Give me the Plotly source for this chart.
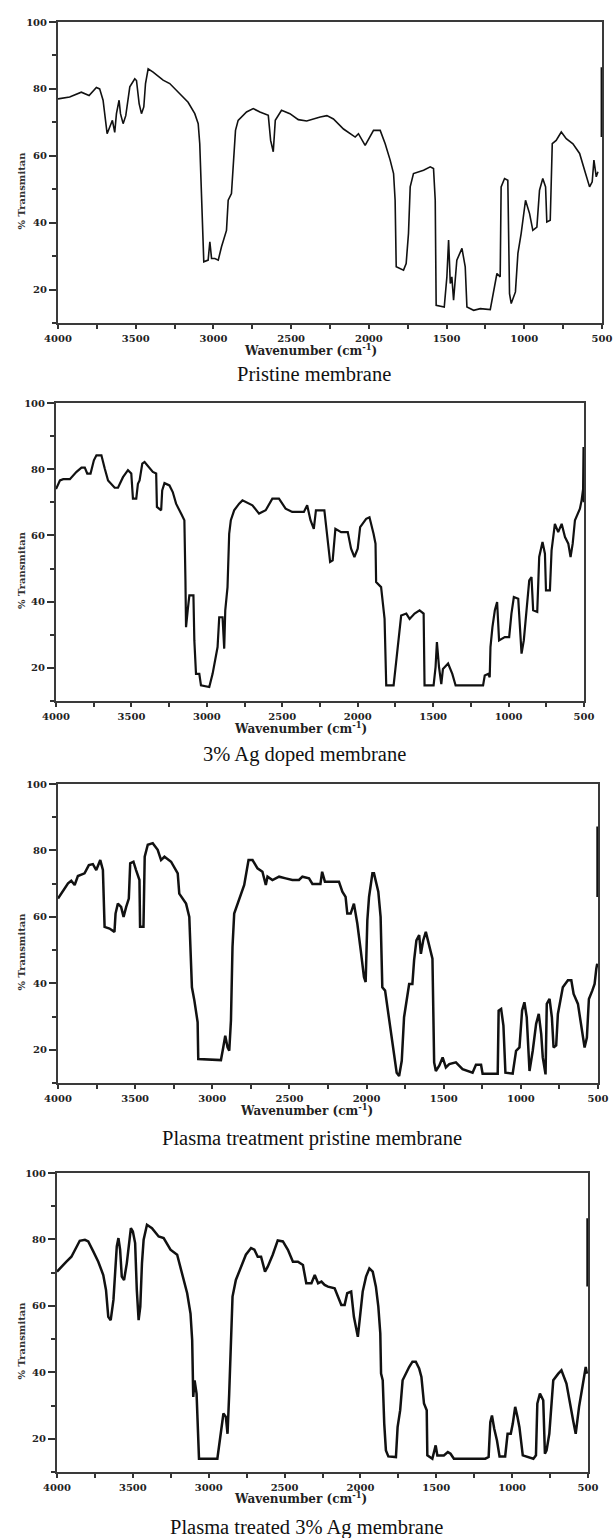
import plotly.graph_objects as go

# ---------------- data (wavenumber cm^-1, % transmittance) ----------------
PRISTINE = [
    (4000, 77), (3925, 77.6), (3850, 79), (3800, 78), (3753, 80.4), (3732, 80), (3710, 76.6),
    (3693, 70.6), (3684, 66.6), (3667, 68.6), (3650, 70.6), (3635, 67), (3624, 72.6), (3607, 76.6),
    (3598, 72.6), (3581, 69.6), (3564, 72), (3538, 80.6), (3506, 83), (3495, 82.5), (3478, 75.6),
    (3463, 72.6), (3448, 74.6), (3437, 81.6), (3420, 86), (3388, 85), (3324, 82.6), (3281, 81.6),
    (3216, 78.6), (3163, 76), (3120, 72.6), (3098, 69.6), (3088, 63.6), (3081, 52.7), (3073, 40.7),
    (3062, 28.3), (3034, 28.8), (3023, 34.3), (3012, 29.3), (2991, 29.3), (2969, 28.8), (2948, 32.8),
    (2916, 37.7), (2905, 46.7), (2884, 48.7), (2873, 56.7), (2858, 67.6), (2841, 70.6), (2787, 73.1),
    (2744, 74.1), (2701, 73.1), (2647, 72.1), (2632, 64.6), (2615, 61.2), (2602, 70.6), (2562, 73.6),
    (2508, 72.6), (2454, 70.8), (2400, 70.4), (2313, 71.6), (2270, 72), (2228, 71), (2163, 68),
    (2088, 65.6), (2067, 66.6), (2024, 63.1), (1970, 67.6), (1927, 67.6), (1895, 63.6), (1863, 58.7),
    (1841, 54.7), (1831, 46.7), (1824, 26.8), (1777, 25.8), (1760, 27.8), (1745, 36.8), (1734, 50.7),
    (1713, 54.7), (1648, 55.7), (1605, 56.7), (1584, 56.2), (1573, 46.7), (1567, 15.3), (1515, 14.8),
    (1498, 23.8), (1487, 34.8), (1476, 21.8), (1466, 23.8), (1455, 16.8), (1434, 28.8), (1401, 32.3),
    (1380, 26.8), (1369, 14.8), (1326, 13.8), (1283, 14.3), (1219, 14), (1197, 19.8), (1176, 24.8),
    (1155, 23.8), (1149, 50.7), (1127, 53.2), (1106, 52.7), (1095, 18.8), (1084, 15.8), (1057, 19.3),
    (1041, 30.8), (1020, 36.8), (992, 46.7), (966, 42.7), (945, 37.7), (919, 38.7), (902, 49.7),
    (881, 53.2), (863, 50.7), (855, 40.2), (833, 40.7), (820, 63.6), (795, 64.6), (762, 67.1),
    (730, 65.1), (687, 63.6), (644, 60.7), (612, 55.7), (580, 50.7), (563, 52.2), (552, 58.7),
    (537, 53.7), (526, 55.2), (None, None), (504, 65.6), (504, 86.5),
]

AG_DOPED = [
    (4000, 74), (3974, 76.6), (3952, 77), (3908, 77), (3864, 79.2), (3831, 80.5), (3809, 80.5),
    (3793, 78.7), (3771, 78.7), (3749, 82.7), (3732, 84.2), (3699, 84.2), (3677, 80.2), (3655, 76.6),
    (3611, 74.4), (3589, 74.4), (3556, 77.6), (3523, 79.7), (3501, 78.7), (3490, 71.1), (3468, 71.1),
    (3457, 75.6), (3446, 76.6), (3428, 81.7), (3413, 82.2), (3380, 80.5), (3358, 79.2), (3336, 78.7),
    (3331, 68.6), (3303, 67.6), (3296, 73.6), (3281, 75.8), (3248, 75.1), (3226, 73.1), (3204, 69.6),
    (3171, 66.6), (3149, 64.6), (3142, 46.4), (3138, 32.3), (3127, 37.4), (3116, 41.9), (3089, 41.9),
    (3083, 28.3), (3072, 18.2), (3050, 18.2), (3039, 14.7), (2984, 14.2), (2962, 18.2), (2929, 26.3),
    (2918, 35.3), (2896, 35.3), (2885, 25.8), (2878, 37.4), (2863, 44.4), (2852, 60.5), (2841, 64.6),
    (2819, 67.6), (2786, 69.6), (2764, 70.6), (2698, 69.1), (2654, 66.6), (2610, 67.6), (2566, 71.1),
    (2522, 71.1), (2478, 68.1), (2434, 67.1), (2357, 67.1), (2335, 69.1), (2313, 64.6), (2291, 62),
    (2277, 67.6), (2221, 67.6), (2205, 61), (2183, 52), (2166, 52.5), (2148, 62), (2110, 61),
    (2066, 61), (2044, 56), (2022, 53.5), (2000, 56), (1984, 62.5), (1944, 65), (1922, 65.5),
    (1895, 60.5), (1882, 57.5), (1878, 45.9), (1845, 44.4), (1822, 34.8), (1811, 14.7), (1762, 14.7),
    (1745, 22.3), (1723, 32.8), (1712, 35.8), (1678, 36.4), (1656, 34.8), (1623, 36.4), (1590, 37.4),
    (1563, 36.4), (1557, 14.7), (1497, 14.7), (1484, 20.2), (1475, 27.8), (1461, 20.2), (1446, 15.1),
    (1435, 19.7), (1401, 21.3), (1373, 18.2), (1351, 14.7), (1169, 14.7), (1158, 17.7), (1136, 18.2),
    (1125, 17.2), (1120, 26.3), (1107, 32.3), (1091, 37.4), (1076, 39.9), (1063, 28.3), (1025, 29.3),
    (996, 29.3), (981, 36.4), (965, 41.4), (936, 40.9), (925, 32.3), (914, 24.3), (899, 28.3),
    (881, 36.4), (863, 46.4), (848, 47.4), (837, 37.4), (810, 36.9), (797, 53.5), (775, 58),
    (759, 54.5), (752, 43.4), (726, 43.4), (715, 55.5), (693, 63.5), (671, 61), (648, 63.5),
    (626, 59.5), (604, 57.5), (589, 53.5), (575, 57.5), (560, 64.6), (527, 68.1), (516, 70.6),
    (506, 74), (503, 86.7), (501, 70),
]

PLASMA_PRISTINE = [
    (4000, 65.5), (3968, 67.6), (3935, 70.1), (3914, 70.9), (3892, 69.6), (3871, 72.3), (3828, 73.1),
    (3800, 75.6), (3774, 75.9), (3752, 74.1), (3726, 77.1), (3709, 74.1), (3698, 57), (3666, 56.5),
    (3634, 55.5), (3627, 61), (3612, 64), (3591, 63), (3575, 60), (3558, 63), (3541, 65.5),
    (3532, 76.1), (3511, 76.6), (3494, 74.1), (3472, 71.1), (3468, 57), (3446, 57), (3438, 78.1),
    (3418, 81.7), (3386, 82.2), (3354, 80.2), (3332, 77.1), (3310, 78.1), (3267, 76.6), (3224, 73.1),
    (3214, 67), (3170, 64), (3149, 60), (3140, 48.9), (3132, 38.8), (3116, 34.8), (3095, 28.3),
    (3091, 17.2), (2944, 16.9), (2929, 20.7), (2916, 24.2), (2901, 20.7), (2890, 19.7), (2879, 28.8),
    (2869, 50.9), (2858, 61), (2826, 65), (2793, 69.6), (2765, 77.1), (2739, 77.1), (2707, 74.6),
    (2675, 73.6), (2653, 69.6), (2642, 72.1), (2610, 71.1), (2567, 72.1), (2524, 71.6), (2481, 71.1),
    (2438, 71.1), (2416, 72.1), (2373, 71.6), (2351, 69.9), (2299, 69.9), (2288, 73.6), (2270, 70.6),
    (2179, 70.6), (2157, 67.6), (2136, 66), (2125, 61), (2103, 61), (2082, 64), (2060, 58),
    (2038, 50), (2017, 41.9), (2006, 40.4), (1995, 59), (1984, 66), (1962, 73.1), (1952, 73.1),
    (1937, 69.6), (1924, 67.6), (1909, 60), (1898, 38.8), (1880, 37.8), (1865, 32.8), (1844, 26.8),
    (1822, 18.7), (1805, 13.1), (1789, 12.1), (1772, 16.7), (1757, 29.8), (1735, 36.8), (1724, 39.8),
    (1703, 39.8), (1692, 46.9), (1677, 52.9), (1659, 54.5), (1648, 48.9), (1633, 52.9), (1616, 55.5),
    (1594, 50.9), (1573, 47.4), (1562, 16.2), (1551, 13.6), (1529, 15.2), (1507, 17.7), (1486, 14.7),
    (1464, 15.7), (1421, 16.2), (1378, 14.2), (1313, 13.1), (1291, 15.5), (1258, 15.5), (1248, 12.8),
    (1150, 12.8), (1144, 31.8), (1128, 32.3), (1113, 27.3), (1100, 13.1), (1053, 12.8), (1031, 19.7),
    (1009, 20.7), (992, 31.8), (977, 34.3), (962, 29.8), (944, 13.6), (923, 19.7), (901, 27.8),
    (884, 30.8), (868, 24.7), (858, 17.7), (840, 12.6), (832, 33.8), (814, 35.3), (799, 29.8),
    (788, 20.7), (771, 21.3), (760, 30.8), (728, 38.8), (695, 40.9), (673, 40.9), (658, 36.8),
    (630, 33.8), (602, 25.7), (587, 20.7), (572, 23.7), (559, 35.3), (537, 37.8), (522, 39.8),
    (511, 44.4), (505, 45.9), (None, None), (503, 66), (503, 87.2),
]

PLASMA_AG = [
    (4000, 70.3), (3971, 71.8), (3938, 73.3), (3905, 74.8), (3883, 76.9), (3850, 79.6), (3816, 79.9),
    (3794, 79.4), (3761, 76.4), (3728, 73.3), (3695, 69.3), (3677, 64.8), (3662, 56.7), (3646, 55.7),
    (3628, 61.8), (3617, 68.8), (3606, 77.9), (3595, 80.4), (3584, 76.9), (3573, 68.8), (3558, 67.8),
    (3540, 72.8), (3513, 83.4), (3500, 82.4), (3485, 78.9), (3474, 64.8), (3462, 55.7), (3451, 59.8),
    (3440, 72.8), (3429, 79.9), (3407, 84.4), (3374, 83.4), (3330, 80.9), (3297, 80.4), (3252, 76.9),
    (3208, 75.4), (3175, 69.8), (3142, 63.8), (3120, 57.7), (3109, 49.7), (3102, 32.6), (3093, 37.6),
    (3080, 33.6), (3064, 14), (2943, 14), (2921, 21.5), (2903, 27.6), (2887, 26.6), (2876, 21.5),
    (2865, 33.6), (2854, 49.7), (2843, 62.8), (2821, 67.8), (2788, 71.8), (2755, 75.4), (2721, 77.4),
    (2699, 76.9), (2677, 74.8), (2655, 74.8), (2629, 70.3), (2611, 71.8), (2578, 75.4), (2545, 79.7),
    (2511, 79.4), (2478, 76.9), (2445, 73.3), (2412, 73.3), (2379, 72.3), (2357, 66.8), (2323, 66.8),
    (2301, 69.3), (2279, 66.8), (2257, 67.3), (2236, 66.3), (2214, 65.8), (2170, 65.3), (2148, 62.8),
    (2126, 60.3), (2104, 60.3), (2087, 63.8), (2061, 64.3), (2043, 56.7), (2017, 50.7), (2000, 57.2),
    (1985, 64.3), (1963, 68.8), (1941, 71.3), (1919, 70.3), (1898, 65.8), (1882, 59.8), (1869, 51.7),
    (1864, 39.6), (1853, 37.6), (1843, 24.5), (1832, 16.5), (1816, 14.7), (1766, 14.5), (1755, 23.5),
    (1738, 28.6), (1722, 37.6), (1701, 39.6), (1679, 41.6), (1657, 43.2), (1635, 43.2), (1613, 41.2),
    (1598, 38.6), (1581, 30.6), (1563, 28.6), (1559, 15), (1526, 14), (1504, 18), (1493, 15),
    (1450, 15), (1424, 16), (1406, 15.5), (1384, 14), (1177, 14), (1155, 14.5), (1144, 25),
    (1133, 27), (1118, 23), (1100, 19.5), (1083, 14.7), (1046, 14.7), (1030, 21.5), (1009, 21.5),
    (996, 24.5), (980, 29.6), (965, 26.6), (952, 23.5), (930, 15), (860, 14), (843, 15),
    (834, 30.6), (817, 33.6), (795, 31.6), (784, 15.5), (773, 16.5), (755, 21.5), (729, 37.6),
    (696, 39.6), (675, 40.6), (642, 36.6), (620, 30.6), (598, 25.5), (581, 21.5), (559, 29.6),
    (537, 35.6), (515, 41.6), (507, 39.6), (None, None), (503, 65.8), (503, 86.4),
]

CAPTIONS = ["Pristine membrane", "3% Ag doped membrane",
            "Plasma treatment pristine membrane", "Plasma treated 3% Ag membrane"]
X_TITLE = "Wavenumber (cm<sup>-1</sup>)"
Y_TITLE = "% Transmitan"
X_RANGE = [4000, 500]
Y_RANGE = [10, 100]

# ---------------- layout geometry (pixels) ----------------
W, H = 616, 1538
panels = [
    dict(data=PRISTINE, x0=58, x1=602, y0=22, y1=323, cap_y=374, xt_x=310, xt_y=350, lw=1.6),
    dict(data=AG_DOPED, x0=56, x1=584, y0=403, y1=701, cap_y=754, xt_x=300, xt_y=728, lw=2.2),
    dict(data=PLASMA_PRISTINE, x0=58, x1=598, y0=784, y1=1083, cap_y=1138, xt_x=306, xt_y=1110, lw=2.5),
    dict(data=PLASMA_AG, x0=57, x1=588, y0=1173, y1=1472, cap_y=1527, xt_x=300, xt_y=1498, lw=2.5),
]


def px(x):
    return x / W


def py(y):
    return 1 - y / H


fig = go.Figure()
tickfont = dict(family="DejaVu Serif", size=10, color="#222", weight="bold")
annotations = []

for i, p in enumerate(panels, start=1):
    xs = [d[0] for d in p["data"]]
    ys = [d[1] for d in p["data"]]
    sfx = "" if i == 1 else str(i)
    fig.add_trace(go.Scatter(
        x=xs, y=ys, mode="lines", xaxis="x" + sfx, yaxis="y" + sfx,
        line=dict(color="#111", width=p["lw"]), connectgaps=False, showlegend=False,
    ))
    fig.layout["xaxis" + sfx] = dict(
        domain=[px(p["x0"]), px(p["x1"])], anchor="y" + sfx, range=X_RANGE, automargin=False,
        tickmode="linear", tick0=500, dtick=500, ticks="outside", ticklen=4, tickwidth=1.5,
        tickcolor="#333", minor=dict(ticks="outside", dtick=250, tick0=500, ticklen=4,
                                     tickwidth=1.5, tickcolor="#333"),
        showline=True, linecolor="#3a3a3a", linewidth=2, mirror=True,
        showgrid=False, zeroline=False, tickfont=tickfont, ticklabelstandoff=1,
    )
    fig.layout["yaxis" + sfx] = dict(
        domain=[py(p["y1"]), py(p["y0"])], anchor="x" + sfx, range=Y_RANGE, automargin=False,
        tickmode="linear", tick0=0, dtick=20, ticks="outside", ticklen=7, tickwidth=1.5,
        tickcolor="#333", minor=dict(ticks="outside", dtick=10, tick0=0, ticklen=4,
                                     tickwidth=1.5, tickcolor="#333"),
        showline=True, linecolor="#3a3a3a", linewidth=2, mirror=True,
        showgrid=False, zeroline=False, tickfont=tickfont,
    )
    annotations.append(dict(
        text="<b>" + X_TITLE + "</b>", x=px(p["xt_x"]), y=py(p["xt_y"]), xref="paper", yref="paper",
        xanchor="center", yanchor="middle", showarrow=False,
        font=dict(family="DejaVu Serif", size=12, color="#222"),
    ))
    annotations.append(dict(
        text="<b>" + Y_TITLE + "</b>", x=px(21), y=py((p["y0"] + p["y1"]) / 2 + 18),
        xref="paper", yref="paper", xanchor="center", yanchor="middle", textangle=-90,
        showarrow=False, font=dict(family="DejaVu Serif", size=10, color="#333"),
    ))
    annotations.append(dict(
        text=CAPTIONS[i - 1], x=px((p["x0"] + p["x1"]) / 2 - 16), y=py(p["cap_y"]),
        xref="paper", yref="paper", xanchor="center", yanchor="middle", showarrow=False,
        font=dict(family="Liberation Serif", size=20.5, color="#111"),
    ))

fig.update_layout(
    width=W, height=H, margin=dict(l=0, r=0, t=0, b=0, autoexpand=False),
    paper_bgcolor="white", plot_bgcolor="white", annotations=annotations, showlegend=False,
)

fig.write_html(
    "out.html",
    config={"displayModeBar": False},
    post_script="document.body.style.margin='0';document.body.style.overflow='hidden';",
)
